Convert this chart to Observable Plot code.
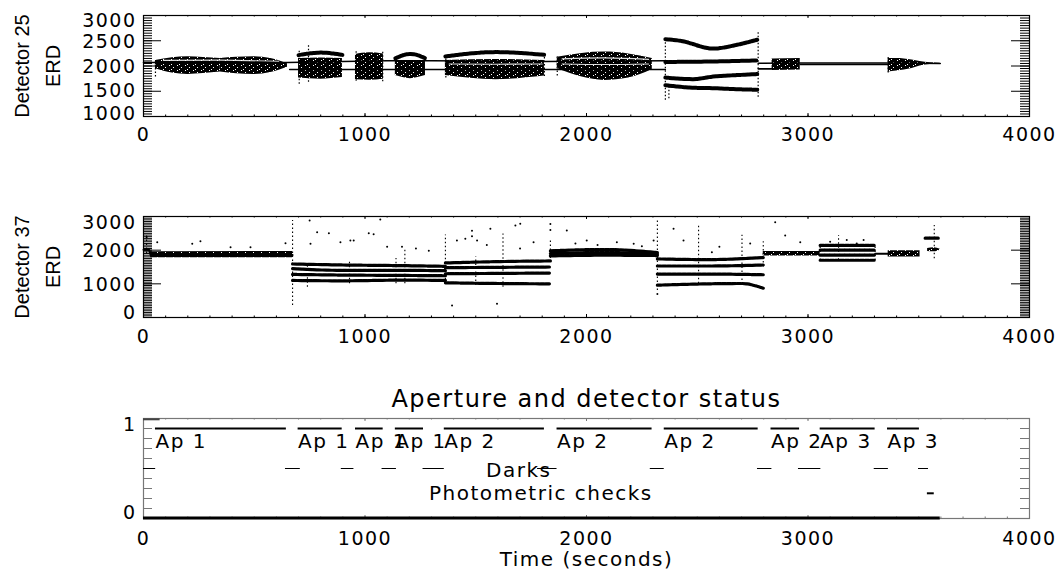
<!DOCTYPE html>
<html>
<head>
<meta charset="utf-8">
<script src="https://cdn.jsdelivr.net/npm/d3@7"></script>
<script src="https://cdn.jsdelivr.net/npm/@observablehq/plot@0.6"></script>
<style>
  body { margin: 0; background: #fff; }
  #chart { position: relative; width: 1060px; height: 571px; overflow: hidden; background: #fff; }
  #chart svg text { letter-spacing: 1.5px; }
  #chart svg text[transform*="rotate"] { letter-spacing: 0; }
</style>
</head>
<body>
<div id="chart"></div>
<script>
// ---------------- tick values / labels ----------------
const xTicks = [0, 1000, 2000, 3000, 4000];
const xMinorTicks = d3.range(0, 4001, 100);
const y25Ticks = [1000, 1500, 2000, 2500, 3000];
const y25Minor = d3.range(1000, 3001, 50);
const y37Ticks = [0, 1000, 2000, 3000];
const y37Minor = d3.range(0, 3001, 50);
const yStatusMinor = d3.range(0, 1.001, 0.125);

// ---------------- Detector 25 (ERD) ----------------
// dense point clouds: [segment, time (s), low ERD, high ERD]
const det25Clouds = [
  ["A1",54,1945,2110],["A1",130,1860,2165],["A1",200,1832,2185],["A1",270,1850,2170],["A1",347,1880,2150],
  ["A2",347,1880,2150],["A2",420,1845,2175],["A2",497,1830,2185],["A2",575,1870,2150],["A2",650,1975,2045],
  ["B",700,1760,2150],["B",800,1740,2160],["B",898,1770,2150],
  ["C",957,1730,2230],["C",1020,1720,2260],["C",1083,1740,2240],
  ["D",1137,1810,2100],["D",1205,1750,2110],["D",1273,1810,2100],
  ["E",1363,1810,2110],["E",1590,1730,2130],["E",1810,1800,2110],
  ["F",1868,1950,2175],["F",1980,1780,2250],["F",2080,1715,2275],["F",2190,1760,2240],["F",2297,1930,2150],
  ["H",2838,1910,2140],["H",2965,1920,2150],
  ["I",3362,1880,2150],["I",3400,1900,2150],["I",3470,1950,2120],["I",3506,2000,2090],["I",3597,2045,2055]
];
// bright gaps inside the clouds: [id, time, ERD]
const det25Gaps = [
  ["A",90,2110],["A",347,2115],["A",610,2090],
  ["E",1380,2040],["E",1590,2035],["E",1800,2040],
  ["F1",1890,2140],["F1",2080,2160],["F1",2280,2130],
  ["F2",1890,2040],["F2",2080,2030],["F2",2280,2040]
];
// distinct bands: [band, time, ERD]
const det25Bands = [
  ["B",700,2215],["B",800,2265],["B",898,2220],
  ["D",1137,2150],["D",1205,2240],["D",1273,2150],
  ["E",1363,2190],["E",1590,2275],["E",1810,2220],
  ["G1",2356,2530],["G1",2423,2500],["G1",2572,2345],["G1",2680,2420],["G1",2771,2520],
  ["G2",2356,2080],["G2",2572,2090],["G2",2771,2110],
  ["G3",2356,1770],["G3",2480,1740],["G3",2572,1790],["G3",2680,1820],["G3",2771,1840],
  ["G4",2356,1620],["G4",2480,1570],["G4",2572,1560],["G4",2680,1540],["G4",2771,1530]
];
// thin traces between exposures: [trace, time, ERD]
const det25Traces = [
  ["u",0,2070],["u",650,2070],["u",900,2090],["u",1100,2105],["u",1300,2105],["u",1810,2090],["u",2356,2105],
  ["l",660,1930],["l",2356,1930],
  ["r",2775,2055],["r",2965,2060],["r",3362,2060],["r",3597,2050],
  ["r2",2965,2030],["r2",3362,2030],
  ["s",2775,1944],["s",2838,1944]
];
// dotted vertical spikes: [time, low, high]
const det25Spikes = [
  [54,1780,2100],[703,1640,2310],[745,1680,2420],[960,1700,2300],[1080,1690,2290],
  [1365,1760,2220],[1810,1790,2230],[1868,1800,2200],[2356,1320,2560],[2372,1350,1620],
  [2775,1380,2700],[3362,1860,2170]
];

// ---------------- Detector 37 (ERD) ----------------
const det37Clouds = [
  ["A",32,1775,1955],["A",673,1775,1960],
  ["H",2798,1830,1960],["H",3055,1830,1960],
  ["J",3362,1800,1980],["J",3506,1800,1980],
  ["K",3540,1960,2050],["K",3570,1950,2070],["K",3597,1995,2025]
];
const det37Bands = [
  ["B1",673,1590],["B1",900,1560],["B1",1170,1540],["B1",1363,1520],
  ["B2",673,1450],["B2",900,1400],["B2",1170,1400],["B2",1363,1390],
  ["B3",673,1280],["B3",900,1260],["B3",1170,1250],["B3",1363,1240],
  ["B4",673,1100],["B4",900,1090],["B4",1170,1110],["B4",1363,1100],
  ["E1",1363,1620],["E1",1600,1660],["E1",1837,1680],
  ["E2",1363,1480],["E2",1600,1490],["E2",1837,1500],
  ["E3",1363,1300],["E3",1600,1310],["E3",1837,1320],
  ["E4",1363,1030],["E4",1600,1010],["E4",1837,1000],
  ["F1",1837,1980],["F1",2080,2020],["F1",2320,1930],
  ["F2",1837,1900],["F2",2080,1930],["F2",2320,1880],
  ["F3",1837,1830],["F3",2080,1850],["F3",2320,1840],
  ["G1",2320,1740],["G1",2550,1720],["G1",2798,1780],
  ["G2",2320,1530],["G2",2550,1530],["G2",2798,1560],
  ["G3",2320,1290],["G3",2550,1290],["G3",2798,1270],
  ["G4",2320,960],["G4",2550,1000],["G4",2700,1010],["G4",2798,870],
  ["I1",3055,2140],["I1",3303,2140],
  ["I2",3055,2000],["I2",3303,2000],
  ["I3",3055,1850],["I3",3303,1850],
  ["I4",3055,1700],["I4",3303,1700],
  ["T",3529,2356],["T",3588,2356]
];
const det37Traces = [
  ["a",0,2010],["a",25,2010],["a",32,1860],["a",673,1860],
  ["h",3303,1891],["h",3362,1891]
];
const det37Spikes = [
  [14,1900,2450],[673,360,2880],[740,900,1600],[930,1000,1700],[1140,1000,1750],[1180,1000,2000],
  [1363,1000,2450],[1500,950,1800],[1623,900,2480],[1837,1750,2350],[2320,800,2900],
  [2506,1000,2780],[2702,1100,2440],[2798,1500,2250],[3055,1690,2140],[3303,1690,2140],
  [3138,1700,2435],[3570,1743,2730]
];
const det37Outliers = [
  [14,2385],[62,2237],[220,2188],[257,2267],[393,2089],[483,2089],[641,2208],[750,2880],[754,2188],
  [784,2534],[837,2504],[889,2238],[934,2287],[949,2287],[1017,2504],[1039,2475],[1069,2911],
  [1167,2099],[1288,1980],[1415,2287],[1453,2336],[1483,2580],[1483,2410],[1506,2287],[1566,2634],
  [1679,2732],[1701,2782],[1761,2238],[1837,2780],[1837,2600],[1911,2584],[2001,2287],[2137,2238],
  [2213,2188],[2303,2287],[2393,2634],[2438,2287],[2566,1940],[2739,2200],[2852,2831],[2897,2435],
  [2965,2238],[3175,2300],[3251,2300],[1393,356],[1596,406],[2320,700],[1230,2050],
  [1100,2100],[1550,2150],[1700,2050],[2050,2150],[2250,2120],[2600,2100],[3100,2250],[3220,2200],[1950,2200]
];

// ---------------- Aperture and detector status ----------------
const apStart = [54, 698, 957, 1137, 1358, 1867, 2351, 2833, 3055, 3359];
const apEnd   = [645, 897, 1082, 1264, 1810, 2296, 2775, 2962, 3303, 3503];
const apLabel = ["Ap 1","Ap 1","Ap 1","Ap 1","Ap 2","Ap 2","Ap 2","Ap 2","Ap 3","Ap 3"];
const darkStart = [0, 641, 893, 1077, 1262, 1779, 2288, 2772, 2957, 3299, 3499];
const darkEnd   = [55, 708, 950, 1142, 1358, 1867, 2351, 2837, 3058, 3363, 3544];
const photStart = [3539];
const photEnd   = [3570];
const statusLevel = {aperture: 1, apertureLabel: 0.84, dark: 0.5, phot: 0.19, floor: -0.12, ceiling: 1.115};
const statusNotes = [["Darks", 1694, 0.48], ["Photometric checks", 1794, 0.19]];
const floorSpan = [0, 3597];
const ceilingSpan = [0, 75];

const apRows = apStart.map((s, i) => ({start: s, end: apEnd[i], label: apLabel[i], y: statusLevel.aperture, ly: statusLevel.apertureLabel}));
const darkRows = darkStart.map((s, i) => ({start: s, end: darkEnd[i], y: statusLevel.dark}));
const photRows = photStart.map((s, i) => ({start: s, end: photEnd[i], y: statusLevel.phot}));
const floorRows = [{start: floorSpan[0], end: floorSpan[1], y: statusLevel.floor}];
const ceilRows = [{start: ceilingSpan[0], end: ceilingSpan[1], y: statusLevel.ceiling}];

// ---------------- drawing ----------------
const chart = document.getElementById("chart");
const PW = 886; // plot width in px (1060 - 143 - 31)

function frameAndTicks(h, yMinor, yMajor, stroke) {
  return [
    Plot.ruleX(xMinorTicks, {insetTop: h - 1.5, stroke}),
    Plot.ruleX(xMinorTicks, {insetBottom: h - 1.5, stroke}),
    Plot.ruleX(xTicks, {insetTop: h - 3, stroke}),
    Plot.ruleX(xTicks, {insetBottom: h - 3, stroke}),
    Plot.ruleY(yMinor, {insetRight: PW - 9, stroke}),
    Plot.ruleY(yMinor, {insetLeft: PW - 9, stroke}),
    Plot.ruleY(yMajor, {insetRight: PW - 18, stroke}),
    Plot.ruleY(yMajor, {insetLeft: PW - 18, stroke}),
    Plot.frame({stroke, strokeWidth: 1.2})
  ];
}

function xLabels(pad) {
  return Plot.axisX(xTicks, {anchor: "bottom", tickSize: 0, tickPadding: pad, label: null, fontSize: 19, tickFormat: d => String(d)});
}

function yLabels(values, dy) {
  return Plot.axisY(values, {anchor: "left", tickSize: 0, tickPadding: 7, label: null, dy, fontSize: 19, tickFormat: d => String(d)});
}

function yTitle(text, dx) {
  return Plot.text([text], {frameAnchor: "left", dx, rotate: -90, fontFamily: "'Liberation Sans', Arial, sans-serif", fontSize: 20, lineAnchor: "middle", textAnchor: "middle"});
}

function addSpeckle(svg, id) {
  const pat = d3.select(svg).insert("defs", ":first-child")
    .append("pattern").attr("id", id).attr("patternUnits", "userSpaceOnUse")
    .attr("width", 8).attr("height", 5);
  pat.append("rect").attr("width", 8).attr("height", 5).attr("fill", "#000");
  [[1, 0], [5, 2], [3, 4]].forEach(([x, y]) =>
    pat.append("rect").attr("x", x).attr("y", y).attr("width", 1).attr("height", 1).attr("fill", "#fff"));
}

function makePanel(top, height, marginTop, marginBottom, yDomain, marks, patternId) {
  const svg = Plot.plot({
    width: 1060, height, marginLeft: 143, marginRight: 31, marginTop, marginBottom,
    x: {domain: [0, 4000], axis: null},
    y: {domain: yDomain, axis: null},
    style: {fontFamily: "'DejaVu Sans', sans-serif", fontSize: "20px", color: "black", background: "white"},
    marks
  });
  if (patternId) addSpeckle(svg, patternId);
  svg.style.position = "absolute";
  svg.style.left = "0px";
  svg.style.top = top + "px";
  chart.appendChild(svg);
}

// Panel 1: Detector 25
makePanel(0, 150, 15, 34, [1000, 3000], [
  Plot.areaY(det25Clouds, {x: d => d[1], y1: d => d[2], y2: d => d[3], z: d => d[0], fill: "url(#speck25)", curve: "monotone-x"}),
  Plot.line(det25Gaps, {x: d => d[1], y: d => d[2], z: d => d[0], stroke: "white", strokeWidth: 1.2, strokeOpacity: 0.85, curve: "monotone-x"}),
  Plot.line(det25Traces, {x: d => d[1], y: d => d[2], z: d => d[0], stroke: "black", strokeWidth: 1.6}),
  Plot.line(det25Bands, {x: d => d[1], y: d => d[2], z: d => d[0], stroke: "black", strokeWidth: 4, strokeDasharray: "3,1", curve: "monotone-x"}),
  Plot.ruleX(det25Spikes, {x: d => d[0], y1: d => d[1], y2: d => d[2], stroke: "black", strokeWidth: 1.2, strokeDasharray: "1.5,2"}),
  ...frameAndTicks(101, y25Minor, y25Ticks, "black"),
  xLabels(11),
  yLabels([2000, 2500], 1),
  yLabels([1500], 0),
  yLabels([3000], 5.5),
  yLabels([1000], -2.5),
  yTitle("Detector 25", -121),
  yTitle("ERD", -90)
], "speck25");

// Panel 2: Detector 37
makePanel(150, 200, 66, 33, [0, 3000], [
  Plot.areaY(det37Clouds, {x: d => d[1], y1: d => d[2], y2: d => d[3], z: d => d[0], fill: "url(#speck37)", curve: "monotone-x"}),
  Plot.line(det37Traces, {x: d => d[1], y: d => d[2], z: d => d[0], stroke: "black", strokeWidth: 2}),
  Plot.line(det37Bands, {x: d => d[1], y: d => d[2], z: d => d[0], stroke: "black", strokeWidth: 3.2, strokeDasharray: "4,1", curve: "monotone-x"}),
  Plot.ruleX(det37Spikes, {x: d => d[0], y1: d => d[1], y2: d => d[2], stroke: "black", strokeWidth: 1.1, strokeDasharray: "1.5,2.5"}),
  Plot.dot(det37Outliers, {x: d => d[0], y: d => d[1], r: 1, fill: "black", stroke: null}),
  ...frameAndTicks(101, y37Minor, y37Ticks, "black"),
  xLabels(12),
  yLabels([1000, 2000], 1),
  yLabels([3000], 6),
  yLabels([0], -5),
  yTitle("Detector 37", -121),
  yTitle("ERD", -90)
], "speck37");

// Panel 3: status
makePanel(350, 221, 68, 53, [-0.125, 1.125], [
  ...frameAndTicks(100, yStatusMinor, [], "#777"),
  Plot.ruleY(floorRows, {x1: "start", x2: "end", y: "y", stroke: "black", strokeWidth: 3}),
  Plot.ruleY(ceilRows, {x1: "start", x2: "end", y: "y", stroke: "#444", strokeWidth: 2}),
  Plot.ruleY(apRows, {x1: "start", x2: "end", y: "y", stroke: "black", strokeWidth: 2}),
  Plot.ruleY(darkRows, {x1: "start", x2: "end", y: "y", stroke: "black", strokeWidth: 1}),
  Plot.ruleY(photRows, {x1: "start", x2: "end", y: "y", stroke: "black", strokeWidth: 2}),
  Plot.text(apRows, {x: "start", y: "ly", text: "label", textAnchor: "start", lineAnchor: "middle"}),
  Plot.text(statusNotes, {x: d => d[1], y: d => d[2], text: d => d[0], textAnchor: "middle", lineAnchor: "middle"}),
  xLabels(13),
  yLabels([1], -4),
  yLabels([0], 4.5),
  Plot.text(["Aperture and detector status"], {frameAnchor: "top", dy: -19, fontSize: 24, lineAnchor: "middle", textAnchor: "middle"}),
  Plot.text(["Time (seconds)"], {frameAnchor: "bottom", dy: 41, lineAnchor: "middle", textAnchor: "middle"})
]);
</script>
</body>
</html>
